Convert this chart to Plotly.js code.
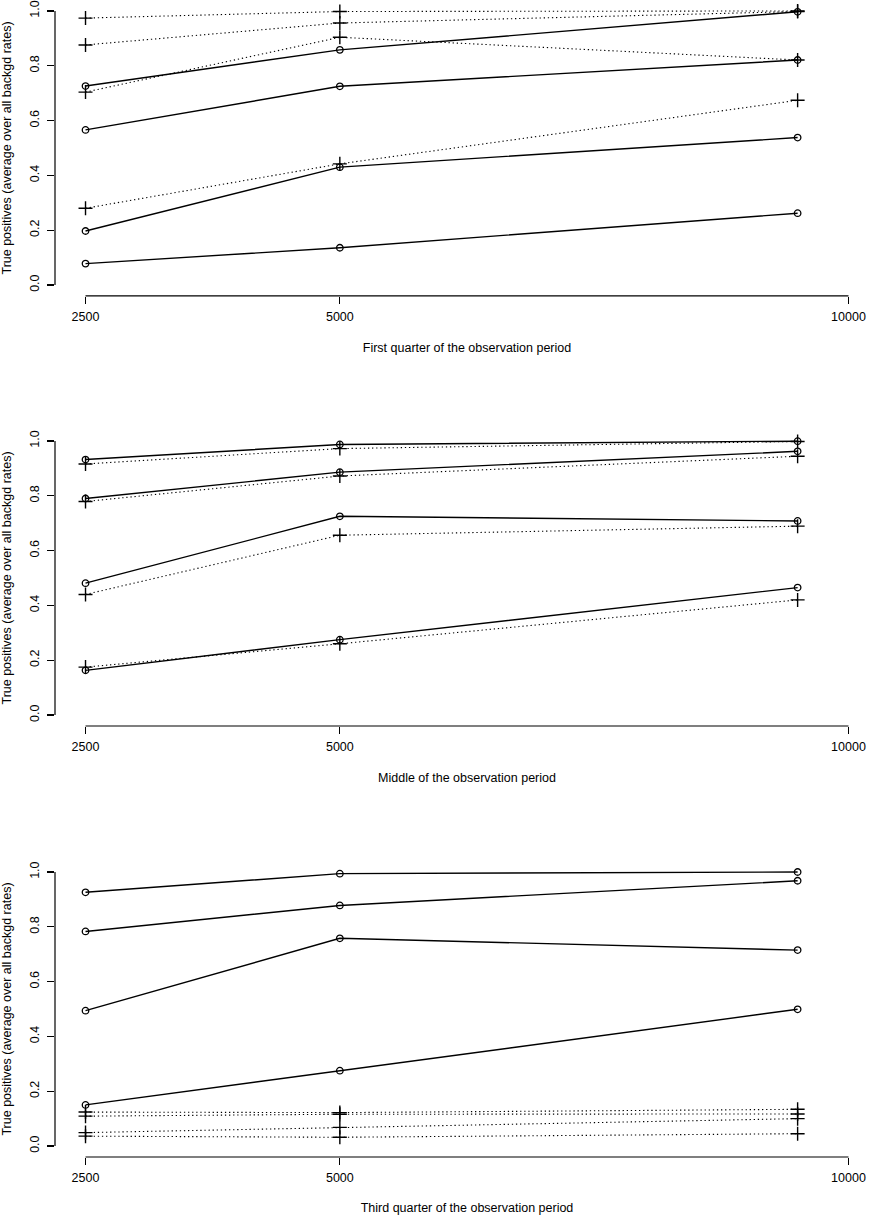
<!DOCTYPE html>
<html>
<head>
<meta charset="utf-8">
<script src="https://cdn.plot.ly/plotly-3.0.1.min.js"></script>
<style>
  html, body { margin: 0; padding: 0; background: #fff; }
  #chart { width: 879px; height: 1215px; }
</style>
</head>
<body>
<div id="chart"></div>
<script>
// sample sizes on the x axis
const sampleSizes = [2500, 5000, 9500]
const tickVals = [2500, 5000, 10000]
const tickText = ['2500', '5000', '10000']

const panelTitles = [
  'First quarter of the observation period',
  'Middle of the observation period',
  'Third quarter of the observation period'
]
const yTitle = 'True positives (average over all backgd rates)'

// first quarter: solid lines with circles, dotted lines with crosses
const firstSolid = [
  [0.726, 0.858, 0.997],
  [0.566, 0.725, 0.821],
  [0.197, 0.430, 0.538],
  [0.078, 0.136, 0.262]
]
const firstDotted = [
  [0.974, 0.998, 1.000],
  [0.876, 0.956, 0.998],
  [0.704, 0.904, 0.821],
  [0.280, 0.442, 0.674]
]

// middle
const middleSolid = [
  [0.932, 0.987, 0.999],
  [0.790, 0.886, 0.962],
  [0.481, 0.725, 0.708],
  [0.163, 0.275, 0.465]
]
const middleDotted = [
  [0.916, 0.972, 0.998],
  [0.779, 0.872, 0.944],
  [0.440, 0.656, 0.689],
  [0.175, 0.260, 0.420]
]

// third quarter
const thirdSolid = [
  [0.926, 0.994, 1.000],
  [0.783, 0.878, 0.968],
  [0.494, 0.758, 0.715],
  [0.150, 0.275, 0.499]
]
const thirdDotted = [
  [0.124, 0.122, 0.134],
  [0.109, 0.116, 0.117],
  [0.049, 0.068, 0.100],
  [0.036, 0.032, 0.045]
]

const panels = [
  {solid: firstSolid, dotted: firstDotted},
  {solid: middleSolid, dotted: middleDotted},
  {solid: thirdSolid, dotted: thirdDotted}
]

const font = {family: '"Liberation Sans", Arial, Helvetica, sans-serif', size: 12.5, color: '#000'}
// y domains (paper fractions of the plot height), top panel first
const domains = [[0.7442, 1], [0.3725, 0.6284], [0, 0.2558]]

let traces = []
let layout = {
  width: 879,
  height: 1215,
  margin: {l: 55, r: 0, t: 0, b: 58},
  paper_bgcolor: '#fff',
  plot_bgcolor: '#fff',
  showlegend: false,
  font: font,
  shapes: []
}

panels.forEach((p, i) => {
  let n = i == 0 ? '' : (i + 1)
  let xa = 'x' + n, ya = 'y' + n
  p.solid.forEach(vals => {
    traces.push({
      x: sampleSizes, y: vals, xaxis: xa, yaxis: ya,
      type: 'scatter', mode: 'lines+markers',
      line: {color: '#000', width: 1.4},
      marker: {symbol: 'circle-open', size: 6.5, color: '#000', line: {width: 1.3, color: '#000'}},
      hoverinfo: 'x+y'
    })
  })
  p.dotted.forEach(vals => {
    traces.push({
      x: sampleSizes, y: vals, xaxis: xa, yaxis: ya,
      type: 'scatter', mode: 'lines+markers',
      line: {color: '#000', width: 1.1, dash: '1.3px,2.8px'},
      marker: {symbol: 'cross-thin-open', size: 10, color: '#000', line: {width: 1.4, color: '#000'}},
      hoverinfo: 'x+y'
    })
  })

  layout['xaxis' + n] = {
    domain: [0, 1],
    anchor: ya,
    range: [2200, 10300],
    tickmode: 'array',
    tickvals: tickVals,
    ticktext: tickText,
    ticks: 'outside', ticklen: 7, tickwidth: 1.2, tickcolor: '#000',
    ticklabelstandoff: 2,
    showgrid: false, zeroline: false, showline: false,
    tickfont: font,
    title: {text: panelTitles[i], font: font, standoff: 20}
  }
  layout['yaxis' + n] = {
    domain: domains[i],
    anchor: xa,
    range: [-0.04, 1.04],
    tickmode: 'array',
    tickvals: [0, 0.2, 0.4, 0.6, 0.8, 1.0],
    ticktext: ['0.0', '0.2', '0.4', '0.6', '0.8', '1.0'],
    tickangle: -90,
    ticks: 'outside', ticklen: 7, tickwidth: 1.2, tickcolor: '#000',
    ticklabelstandoff: 3,
    showgrid: false, zeroline: false, showline: false,
    tickfont: font,
    title: {text: yTitle, font: font, standoff: 13}
  }
  // R style axis lines that only span the tick range
  layout.shapes.push({
    type: 'line', xref: xa, yref: ya + ' domain',
    x0: 2500, x1: 10000, y0: 0, y1: 0,
    line: {color: '#000', width: 1.2}
  })
  layout.shapes.push({
    type: 'line', xref: xa + ' domain', yref: ya,
    x0: 0, x1: 0, y0: 0, y1: 1,
    line: {color: '#000', width: 1.2}
  })
})

Plotly.newPlot(document.getElementById('chart'), traces, layout, {displayModeBar: false, staticPlot: true})
</script>
</body>
</html>
